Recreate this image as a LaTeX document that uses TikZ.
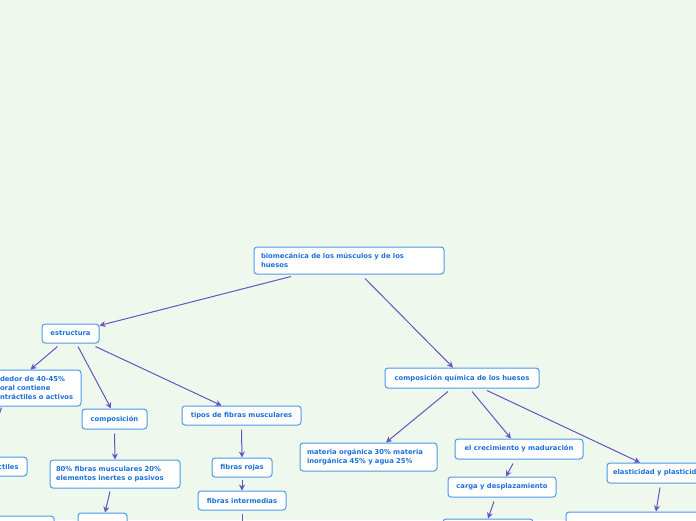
\documentclass[tikz,border=0pt]{standalone}
\usepackage{fontspec}
\setmainfont{DejaVu Sans}
\usetikzlibrary{arrows.meta}
\definecolor{bg}{HTML}{EFF8EC}
\definecolor{txt}{HTML}{1C72DA}
\definecolor{bord}{HTML}{4B9BEA}
\definecolor{conncol}{HTML}{6A52C4}
\tikzset{
  box/.style={draw=bord, line width=1pt, fill=white, rounded corners=3pt,
    font=\bfseries\fontsize{6.8}{9}\selectfont, text=txt, inner sep=0pt, align=center},
  lbox/.style={box, align=left},
  conn/.style={draw=conncol, line width=1pt, -{Stealth[length=6pt,width=6pt]}}
}
\begin{document}
\begin{tikzpicture}[x=1pt,y=-1pt]
\fill[bg] (0,0) rectangle (696,520);
\clip (0,0) rectangle (696,520);
% root
\node[lbox, minimum width=190pt, minimum height=27pt, text width=176pt] (root) at (349,260.5)
  {biomecánica de los músculos y de los\\huesos};
% left branch
\node[box, minimum width=57pt, minimum height=19pt] (estr) at (70.5,333.5) {estructura};
\node[lbox, minimum width=87pt, minimum height=36pt, text width=75pt] (lb) at (37.5,388)
  {dedor de 40-45\%\\oral contiene\\ntráctiles o activos};
\node[lbox, minimum width=33pt, minimum height=19pt, text width=25pt] (ctil) at (10.5,466.5) {ctiles};
\node[box, minimum width=60pt, minimum height=29pt] (bl) at (24,530.5) {};
\node[box, minimum width=65pt, minimum height=20pt] (comp) at (114.5,419) {composición};
\node[lbox, minimum width=130pt, minimum height=28pt, text width=118pt] (p80) at (115,474)
  {80\% fibras musculares 20\%\\elementos inertes o pasivos};
\node[box, minimum width=49pt, minimum height=27pt] (b80) at (102.5,526.5) {};
\node[box, minimum width=119pt, minimum height=19pt] (tipos) at (241.5,415.5) {tipos de fibras musculares};
\node[box, minimum width=60pt, minimum height=19pt] (rojas) at (242,467.5) {fibras rojas};
\node[box, minimum width=88pt, minimum height=19pt] (inter) at (242,500.5) {fibras intermedias};
\coordinate (binter) at (242,530);
% right branch
\node[box, minimum width=154pt, minimum height=20pt] (cq) at (462,378) {composición química de los huesos};
\node[lbox, minimum width=137pt, minimum height=28pt, text width=123pt] (mat) at (368.5,457)
  {materia orgánica 30\% materia\\inorgánica 45\% y agua 25\%};
\node[box, minimum width=128pt, minimum height=20pt] (crec) at (519,449) {el crecimiento y maduración};
\node[box, minimum width=108pt, minimum height=20pt] (carga) at (502,487) {carga y desplazamiento};
\node[box, minimum width=90pt, minimum height=26pt] (bcarga) at (488,532) {};
\node[lbox, minimum width=118pt, minimum height=20pt, text width=106pt] (elast) at (666,473) {elasticidad y plasticidad};
\node[box, minimum width=154pt, minimum height=28pt] (bel) at (643,526) {};
% connectors
\draw[conn] ([xshift=-58pt,yshift=-2pt]root.south) -- ([yshift=-2pt]estr.north east);
\draw[conn] ([xshift=16pt,yshift=-4pt]root.south) -- ([xshift=-9pt]cq.north);
\draw[conn] ([xshift=-13pt,yshift=-3pt]estr.south) -- ([xshift=-7pt]lb.north);
\draw[conn] ([xshift=7.5pt,yshift=-3pt]estr.south) -- ([xshift=-3.5pt]comp.north);
\draw[conn] ([xshift=-4pt,yshift=-3pt]estr.south east) -- ([xshift=-20pt]tipos.north);
\draw[conn] ([xshift=-36pt,yshift=-1pt]lb.south) -- ([xshift=-25pt]ctil.north);
\draw[conn] ([yshift=-4pt]comp.south) -- (p80.north);
\draw[conn] ([xshift=-5pt,yshift=-3pt]p80.south) -- ([xshift=2.5pt]b80.north);
\draw[conn] ([yshift=-4pt]tipos.south) -- (rojas.north);
\draw[conn] ([yshift=-2pt]rojas.south) -- (inter.north);
\draw[conn] ([yshift=-3pt]inter.south) -- (binter);
\draw[conn] ([xshift=-14pt,yshift=-3pt]cq.south) -- ([xshift=17.5pt]mat.north);
\draw[conn] ([xshift=10pt,yshift=-3pt]cq.south) -- ([xshift=-8pt]crec.north);
\draw[conn] ([xshift=25pt,yshift=-2pt]cq.south) -- ([xshift=-26pt]elast.north);
\draw[conn] ([xshift=-6pt,yshift=-4pt]crec.south) -- ([xshift=4pt]carga.north);
\draw[conn] ([xshift=-8pt,yshift=-4pt]carga.south) -- (bcarga.north);
\draw[conn] ([xshift=-6pt,yshift=-4pt]elast.south) -- ([xshift=13pt]bel.north);
\end{tikzpicture}
\end{document}
